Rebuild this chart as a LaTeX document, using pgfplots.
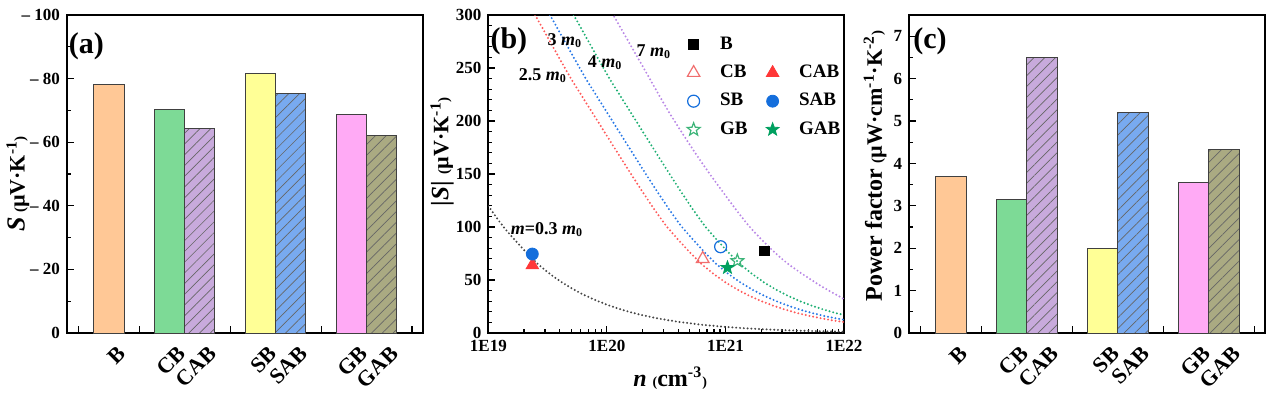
\documentclass[border=0pt]{standalone}
\usepackage{fontspec}
\setmainfont{Liberation Serif}
\usepackage{pgfplots}
\pgfplotsset{compat=1.18}
\usetikzlibrary{patterns.meta}
\newcommand\fs[1]{\fontsize{#1}{#1}\selectfont}
\definecolor{cB}{RGB}{255,200,150}
\definecolor{cCB}{RGB}{125,218,150}
\definecolor{cCAB}{RGB}{200,170,220}
\definecolor{cSB}{RGB}{255,255,150}
\definecolor{cSAB}{RGB}{120,170,240}
\definecolor{cGB}{RGB}{255,170,245}
\definecolor{cGAB}{RGB}{170,170,130}
\definecolor{lRed}{RGB}{255,90,90}
\definecolor{lBlue}{RGB}{40,120,230}
\definecolor{lGreen}{RGB}{30,175,115}
\definecolor{lPurple}{RGB}{185,135,230}
\definecolor{lBlack}{RGB}{70,70,70}
\definecolor{mRed}{RGB}{255,55,55}
\definecolor{mRedL}{RGB}{240,110,110}
\definecolor{mBlue}{RGB}{20,110,220}
\definecolor{mGreen}{RGB}{0,160,95}
\definecolor{mGreenL}{RGB}{60,180,120}
\pgfdeclareplotmark{ostar}{%
  \pgfpathmoveto{\pgfpointpolar{90}{\pgfplotmarksize}}%
  \pgfpathlineto{\pgfpointpolar{126}{0.42\pgfplotmarksize}}%
  \pgfpathlineto{\pgfpointpolar{162}{\pgfplotmarksize}}%
  \pgfpathlineto{\pgfpointpolar{198}{0.42\pgfplotmarksize}}%
  \pgfpathlineto{\pgfpointpolar{234}{\pgfplotmarksize}}%
  \pgfpathlineto{\pgfpointpolar{270}{0.42\pgfplotmarksize}}%
  \pgfpathlineto{\pgfpointpolar{306}{\pgfplotmarksize}}%
  \pgfpathlineto{\pgfpointpolar{342}{0.42\pgfplotmarksize}}%
  \pgfpathlineto{\pgfpointpolar{18}{\pgfplotmarksize}}%
  \pgfpathlineto{\pgfpointpolar{54}{0.42\pgfplotmarksize}}%
  \pgfpathclose\pgfusepathqstroke}
\pgfdeclareplotmark{fstar}{%
  \pgfpathmoveto{\pgfpointpolar{90}{\pgfplotmarksize}}%
  \pgfpathlineto{\pgfpointpolar{126}{0.42\pgfplotmarksize}}%
  \pgfpathlineto{\pgfpointpolar{162}{\pgfplotmarksize}}%
  \pgfpathlineto{\pgfpointpolar{198}{0.42\pgfplotmarksize}}%
  \pgfpathlineto{\pgfpointpolar{234}{\pgfplotmarksize}}%
  \pgfpathlineto{\pgfpointpolar{270}{0.42\pgfplotmarksize}}%
  \pgfpathlineto{\pgfpointpolar{306}{\pgfplotmarksize}}%
  \pgfpathlineto{\pgfpointpolar{342}{0.42\pgfplotmarksize}}%
  \pgfpathlineto{\pgfpointpolar{18}{\pgfplotmarksize}}%
  \pgfpathlineto{\pgfpointpolar{54}{0.42\pgfplotmarksize}}%
  \pgfpathclose\pgfusepathqfillstroke}
\pgfplotsset{
  common/.style={
    scale only axis, anchor=south west, height=159pt,
    tick align=inside, xtick pos=bottom, ytick pos=left,
    axis line style={line width=1pt},
    every tick/.style={black, line width=0.6pt},
    major tick length=3.5pt, minor tick length=2pt,
    /pgf/number format/assume math mode=true,
    ticklabel style={font=\bfseries\fs{8.5}},
  },
  barpanel/.style={
    common, width=178pt,
    xmin=-1.38, xmax=10.36,
    xtick={-1,1,4,7,10}, xticklabels={},
    extra x ticks={0,2,3,5,6,8,9},
    extra x tick labels={B,CB,CAB,SB,SAB,GB,GAB},
    extra x tick style={major tick length=0pt,
      xticklabel style={font=\bfseries\fs{11}, inner sep=0pt, xshift=6.5pt, yshift=-8.5pt, rotate=45, anchor=east}},
  },
  bar/.style={ybar, bar width=1, bar shift=0pt, draw=black!75, line width=0.5pt, fill=#1},
  hatch/.style={postaction={pattern={Lines[angle=45,distance=3.8pt,line width=0.35pt]}, pattern color=black!60}},
  curve/.style={forget plot, color=#1, line width=1.1pt, line cap=round, dash pattern=on 0pt off 1.9pt},
}
\begin{document}
\begin{tikzpicture}
\useasboundingbox (0,0) rectangle (637pt,196.5pt);
% ---------------- (a)
\begin{axis}[barpanel, at={(33.5pt,30pt)},
  ymin=-100, ymax=0, y dir=reverse,
  ytick={0,-20,-40,-60,-80,-100}, yticklabels={0,– 20,– 40,– 60,– 80,– 100},
  minor ytick={-10,-30,-50,-70,-90},
  ylabel={\bfseries{\fs{13}\itshape S}\,{\fs{7.5}(}µV·K\textsuperscript{-1}{\fs{7.5})}},
  ylabel style={font=\bfseries\fs{11}, at={(axis description cs:-0.138,0.47)}, anchor=center},
]
\addplot[bar=cB] coordinates {(0,-78.0)};
\addplot[bar=cCB] coordinates {(2,-70.2)};
\addplot[bar=cCAB, hatch] coordinates {(3,-64.2)};
\addplot[bar=cSB] coordinates {(5,-81.6)};
\addplot[bar=cSAB, hatch] coordinates {(6,-75.2)};
\addplot[bar=cGB] coordinates {(8,-68.8)};
\addplot[bar=cGAB, hatch] coordinates {(9,-62.1)};
\node[anchor=north west, inner sep=0pt, font=\bfseries\fs{15}] at (rel axis cs:0.004,0.945) {(a)};
\end{axis}
% ---------------- (b)
\begin{axis}[common, at={(244.15pt,30pt)}, width=177.85pt,
  xmode=log, xmin=1e19, xmax=1e22, ymin=0, ymax=300,
  xtick={1e19,1e20,1e21,1e22}, xticklabels={1E19,1E20,1E21,1E22},
  ytick={0,50,100,150,200,250,300}, minor y tick num=4,
  xlabel={\textit{n} {\fs{7}(}cm\textsuperscript{-3}{\fs{7})}},
  xlabel style={font=\bfseries\fs{12}, at={(axis description cs:0.511,-0.1415)}, anchor=center},
  ylabel={{\fs{12.5}|\textit{S}|}\,\,{\fs{7.5}(}µV·K\textsuperscript{-1}{\fs{7.5})}},
  ylabel style={font=\bfseries\fs{11}, at={(axis description cs:-0.13,0.57)}, anchor=center},
  legend columns=2, legend cell align=left,
  legend style={draw=none, fill=none, at={(rel axis cs:0.541,0.958)}, anchor=north west,
    font=\bfseries\fs{9.5}, row sep=2.4pt,
    /tikz/every odd column/.append style={column sep=8pt},
    /tikz/every even column/.append style={column sep=2pt}},
]
% m = 2.5 m0
\addplot[curve=lRed] coordinates {(1.995e19,319) (2.512e19,299) (3.162e19,279) (3.981e19,259) (5.012e19,239.4) (6.310e19,221.6) (7.943e19,203.8) (1e20,186) (1.259e20,168.2) (1.585e20,150.6) (1.995e20,133.3) (2.512e20,116.6) (3.162e20,101) (3.981e20,88.2) (5.012e20,76.0) (6.310e20,64.8) (7.943e20,55.7) (1e21,47.8) (1.259e21,41.0) (1.585e21,35.2) (1.995e21,30.2) (2.512e21,25.9) (3.162e21,22.2) (3.981e21,19.0) (5.012e21,16.3) (6.310e21,14.0) (7.943e21,12.0) (1e22,10.3)};
% m = 3 m0
\addplot[curve=lBlue] coordinates {(2.661e19,319) (3.350e19,299) (4.217e19,279) (5.309e19,259) (6.683e19,239.4) (8.414e19,221.6) (1.059e20,203.8) (1.334e20,186) (1.679e20,168.2) (2.113e20,150.6) (2.661e20,133.3) (3.350e20,116.6) (4.217e20,101) (5.309e20,88.2) (6.683e20,76.0) (8.414e20,64.8) (1.059e21,55.7) (1.334e21,47.8) (1.679e21,41.0) (2.113e21,35.2) (2.661e21,30.2) (3.350e21,25.9) (4.217e21,22.2) (5.309e21,19.0) (6.683e21,16.3) (8.414e21,14.0) (1e22,12.5)};
% m = 4 m0
\addplot[curve=lGreen] coordinates {(4.217e19,319) (5.309e19,299) (6.683e19,279) (8.414e19,259) (1.059e20,239.4) (1.334e20,221.6) (1.679e20,203.8) (2.113e20,186) (2.661e20,168.2) (3.350e20,150.6) (4.217e20,133.3) (5.309e20,116.6) (6.683e20,101) (8.414e20,88.2) (1.059e21,76.0) (1.334e21,64.8) (1.679e21,55.7) (2.113e21,47.8) (2.661e21,41.0) (3.350e21,35.2) (4.217e21,30.2) (5.309e21,25.9) (6.683e21,22.2) (8.414e21,19.0) (1e22,17.0)};
% m = 7 m0
\addplot[curve=lPurple, smooth] coordinates {(1e20,311) (1.132e20,300) (1.995e20,252) (3.273e20,210) (5.358e20,172.6) (8.433e20,141) (1.607e21,100) (3.069e21,68.9) (5.875e21,46.9) (1e22,32)};
% m = 0.3 m0
\addplot[curve=lBlack] coordinates {(1e19,119.8) (1.122e19,111.9) (1.259e19,104.1) (1.413e19,97.1) (1.585e19,90.7) (1.778e19,84.5) (1.995e19,78.4) (2.239e19,72.4) (2.512e19,66.9) (2.818e19,62.0) (3.162e19,57.5) (3.548e19,53.2) (3.981e19,49.3) (4.467e19,45.7) (5.012e19,42.3) (5.623e19,39.2) (6.310e19,36.3) (7.943e19,31.2) (1e20,26.7) (1.259e20,22.9) (1.585e20,19.6) (1.995e20,16.8) (2.512e20,14.4) (3.162e20,12.4) (3.981e20,10.6) (6.310e20,7.8) (1e21,5.75) (1.585e21,4.23) (2.512e21,3.11) (3.981e21,2.29) (6.310e21,1.68) (1e22,1.24)};
% samples
\addplot[only marks, mark=square*, mark size=2.4pt, black] coordinates {(2.14e21,77.6)};
\addlegendentry{B}
\addlegendimage{empty legend}
\addlegendentry{}
\addplot[only marks, mark=triangle, mark size=3.6pt, mRedL, mark options={line width=0.6pt}] coordinates {(6.43e20,70)};
\addlegendentry{CB}
\addplot[only marks, mark=triangle*, mark size=3.6pt, mRed] coordinates {(2.35e19,64)};
\addlegendentry{CAB}
\addplot[only marks, mark=o, mark size=3pt, mBlue, mark options={line width=0.6pt}] coordinates {(9.1e20,81.4)};
\addlegendentry{SB}
\addplot[only marks, mark=*, mark size=3pt, mBlue] coordinates {(2.35e19,74.5)};
\addlegendentry{SAB}
\addplot[only marks, mark=ostar, mark size=3.4pt, mGreenL, mark options={line width=0.6pt}] coordinates {(1.26e21,68)};
\addlegendentry{GB}
\addplot[only marks, mark=fstar, mark size=3.4pt, mGreen] coordinates {(1.04e21,61.6)};
\addlegendentry{GAB}
\begin{scope}[font=\bfseries\fs{9}]
\node at (axis cs:4.43e19,275.5) {3 \textit{m}\textsubscript{0}};
\node at (axis cs:9.64e19,254.7) {4 \textit{m}\textsubscript{0}};
\node at (axis cs:2.49e20,265) {7 \textit{m}\textsubscript{0}};
\node at (axis cs:2.89e19,242.5) {2.5 \textit{m}\textsubscript{0}};
\node at (axis cs:3.13e19,97.2) {\textit{m}=0.3 \textit{m}\textsubscript{0}};
\end{scope}
\node[anchor=north west, inner sep=0pt, font=\bfseries\fs{15}] at (rel axis cs:0.005,0.962) {(b)};
\end{axis}
% ---------------- (c)
\begin{axis}[barpanel, at={(454.65pt,30pt)},
  ymin=0, ymax=7.5, ytick={0,1,2,3,4,5,6,7}, minor y tick num=1,
  ylabel={{\fs{12}Power factor} {\fs{7.5}(}µW·cm\textsuperscript{-1}·K\textsuperscript{-2}{\fs{7.5})}},
  ylabel style={font=\bfseries\fs{11}, at={(axis description cs:-0.096,0.525)}, anchor=center},
]
\addplot[bar=cB] coordinates {(0,3.69)};
\addplot[bar=cCB] coordinates {(2,3.15)};
\addplot[bar=cCAB, hatch] coordinates {(3,6.50)};
\addplot[bar=cSB] coordinates {(5,2.00)};
\addplot[bar=cSAB, hatch] coordinates {(6,5.19)};
\addplot[bar=cGB] coordinates {(8,3.56)};
\addplot[bar=cGAB, hatch] coordinates {(9,4.33)};
\node[anchor=north west, inner sep=0pt, font=\bfseries\fs{15}] at (rel axis cs:0.01,0.962) {(c)};
\end{axis}
\end{tikzpicture}
\end{document}
